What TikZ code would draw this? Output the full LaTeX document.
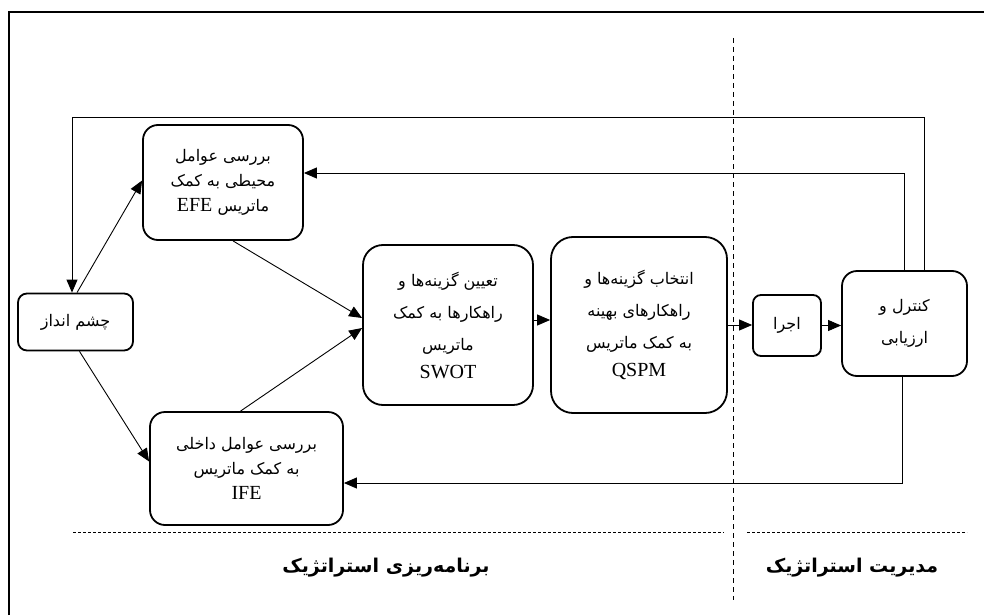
\documentclass[tikz,border=0pt]{standalone}
\usepackage{fontspec}
\usetikzlibrary{arrows.meta}
\TeXXeTstate=1
\newfontfamily\arabicfont[Script=Arabic]{DejaVu Sans}
\newfontfamily\latinfont{Liberation Serif}
\newcommand\FA[1]{\beginR #1\endR}
\newcommand\LT[1]{\beginL{\latinfont\fontsize{20}{20}\selectfont #1}\endL}
\tikzset{
  box/.style={draw, line width=1.8pt, rounded corners=#1, align=center, inner sep=0pt,
    font=\arabicfont\fontsize{16}{25}\selectfont},
  box/.default=15pt,
  arr/.style={line width=0.9pt, -{Triangle[length=13pt,width=11pt]}},
  lab/.style={font=\arabicfont\bfseries\fontsize{19}{22}\selectfont}
}
\begin{document}
\begin{tikzpicture}[x=1pt,y=-1pt]
\useasboundingbox (0,0) rectangle (984,615);
% outer frame (cut by the page)
\draw[line width=1.6pt] (9,615) -- (9,12) -- (984,12);
% nodes
\node[box=15pt, minimum width=160pt, minimum height=115pt] (efe) at (223,182.5)
  {\FA{بررسی عوامل}\\ \FA{محیطی به کمک}\\ \FA{ماتریس \LT{EFE}}};
\node[box=9pt, minimum width=115pt, minimum height=57pt] (vision) at (75.5,322)
  {\FA{چشم انداز}};
\node[box=15pt, minimum width=193pt, minimum height=113pt] (ife) at (246.5,468.5)
  {\FA{بررسی عوامل داخلی}\\ \FA{به کمک ماتریس}\\ \LT{IFE}};
\node[box=20pt, minimum width=170pt, minimum height=160pt,
  font=\arabicfont\fontsize{16}{32}\selectfont] (swot) at (448,325)
  {\FA{تعیین گزینه‌ها و}\\ \FA{راهکارها به کمک}\\ \FA{ماتریس}\\[-4pt] \LT{SWOT}};
\node[box=22pt, minimum width=176pt, minimum height=176pt,
  font=\arabicfont\fontsize{16}{32}\selectfont] (qspm) at (639,325)
  {\FA{انتخاب گزینه‌ها و}\\ \FA{راهکارهای بهینه}\\ \FA{به کمک ماتریس}\\[-4pt] \LT{QSPM}};
\node[box=8pt, minimum width=68pt, minimum height=61pt] (ejra) at (787,325.5)
  {\FA{اجرا}};
\node[box=15pt, minimum width=125pt, minimum height=105pt,
  font=\arabicfont\fontsize{16}{32}\selectfont] (control) at (904.5,323.5)
  {\FA{کنترل و}\\ \FA{ارزیابی}};
% helper coordinates
\coordinate (tl) at (72,117);
\coordinate (y172) at (0,173);
\coordinate (y483) at (0,483);
% connectors
\draw[arr] ([xshift=19.5pt]control.north) |- (tl) -- (tl |- vision.north);
\draw[arr] (control.north) |- (efe.east |- y172);
\draw[arr] ([xshift=-2.5pt]control.south) |- (ife.east |- y483);
\draw[arr] ([xshift=1.5pt]vision.north) -- ([yshift=2pt]efe.west);
\draw[arr] ([xshift=4pt]vision.south) -- ([yshift=7pt]ife.west);
\draw[arr] ([xshift=10pt]efe.south) -- ([yshift=7pt]swot.west);
\draw[arr] ([xshift=-6pt]ife.north) -- ([yshift=-3pt]swot.west);
\draw[arr] ([yshift=5pt]swot.east) -- ([yshift=5pt]qspm.west);
\draw[arr] (qspm.east) -- (qspm.east -| ejra.west);
\draw[arr] (ejra.east) -- (ejra.east -| control.west);
% dividers
\draw[line width=0.8pt, dash pattern=on 5pt off 4pt] (733,38) -- (733,600);
\draw[line width=0.8pt, dash pattern=on 3pt off 2pt] (73,532) -- (724,532);
\draw[line width=0.8pt, dash pattern=on 3pt off 2pt] (747,532) -- (967,532);
% section labels
\node[lab] (plan) at (386,568) {\FA{برنامه‌ریزی استراتژیک}};
\node[lab] (mgmt) at (852,568) {\FA{مدیریت استراتژیک}};
\end{tikzpicture}
\end{document}
